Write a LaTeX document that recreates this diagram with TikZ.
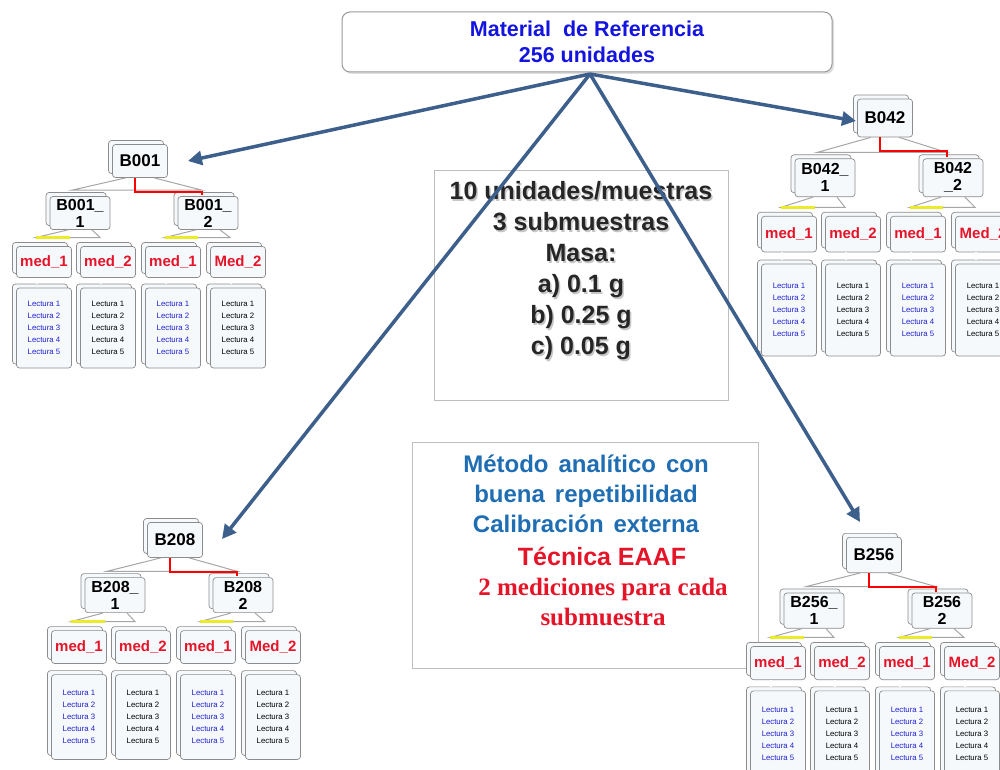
\documentclass[tikz,border=0pt]{standalone}
\usepackage{fontspec}
\setmainfont{Liberation Sans}
\newfontfamily\serifbold{Liberation Serif}
\newfontfamily\widesans[WordSpace=1.5]{Liberation Sans}
\usetikzlibrary{arrows.meta,shadows}
\definecolor{arrowblue}{RGB}{61,95,140}
\definecolor{cardborder}{RGB}{140,140,140}
\definecolor{cardfill}{RGB}{246,249,251}
\definecolor{titleblue}{RGB}{20,20,225}
\definecolor{methblue}{RGB}{31,110,180}
\definecolor{medred}{RGB}{230,20,40}
\definecolor{lectblue}{RGB}{30,30,210}
\definecolor{connyellow}{RGB}{235,235,40}
\definecolor{boxborder}{RGB}{190,190,190}
\tikzset{
 card/.style={draw=cardborder, fill=cardfill, rounded corners=3pt, line width=0.7pt,
   copy shadow={shadow xshift=-4pt, shadow yshift=4pt}, inner sep=0pt, align=center},
 rootlbl/.style={font=\fontsize{17}{19}\selectfont\bfseries},
 childlbl/.style={font=\fontsize{16}{17}\selectfont\bfseries},
 medlbl/.style={font=\fontsize{15}{17}\selectfont\bfseries, text=medred},
 lectlbl/.style={font=\fontsize{7.8}{12}\selectfont},
 greyconn/.style={draw=gray!70, line width=1pt},
 redconn/.style={draw=red, line width=1.8pt},
 yellowconn/.style={draw=connyellow, line width=2.5pt},
 tube/.style={draw=gray!80, double=white, double distance=1.5pt, line width=0.6pt},
 bigarrow/.style={draw=arrowblue, line width=3.5pt, -{Triangle[length=14pt,width=14pt]}},
 infobox/.style={draw=boxborder, fill=white, line width=0.8pt},
}
% #1 name, #2 X, #3 Y, #4 vertical scale, #5 root, #6 child 1, #7 child 2
\newcommand{\orgtree}[7]{%
\begin{scope}[shift={(#2,#3)}]
\pgfmathsetmacro\trYc{52*#4}
\pgfmathsetmacro\trYm{101*#4}
\pgfmathsetmacro\trYl{167*#4}
\pgfmathsetmacro\trHr{33*#4}
\pgfmathsetmacro\trHm{31*#4}
\pgfmathsetmacro\trHl{80*#4}
\pgfmathsetmacro\trYy{(101-15.5)*#4-9}
\node[card,rootlbl,minimum width=55pt,minimum height=\trHr pt] (#1r) at (0,0) {#5};
\node[card,childlbl,minimum width=60pt,minimum height=\trHr pt] (#1c1) at (-60,\trYc) {#6};
\node[card,childlbl,minimum width=60pt,minimum height=\trHr pt] (#1c2) at (68,\trYc) {#7};
\node[card,medlbl,minimum width=55pt,minimum height=\trHm pt] (#1m1) at (-96,\trYm) {med\_1};
\node[card,medlbl,minimum width=55pt,minimum height=\trHm pt] (#1m2) at (-32,\trYm) {med\_2};
\node[card,medlbl,minimum width=55pt,minimum height=\trHm pt] (#1m3) at (33,\trYm) {med\_1};
\node[card,medlbl,minimum width=55pt,minimum height=\trHm pt] (#1m4) at (98,\trYm) {Med\_2};
\node[card,lectlbl,text=lectblue,minimum width=55pt,minimum height=\trHl pt] (#1l1) at (-96,\trYl) {Lectura 1\\Lectura 2\\Lectura 3\\Lectura 4\\Lectura 5};
\node[card,lectlbl,text=black,minimum width=55pt,minimum height=\trHl pt] (#1l2) at (-32,\trYl) {Lectura 1\\Lectura 2\\Lectura 3\\Lectura 4\\Lectura 5};
\node[card,lectlbl,text=lectblue,minimum width=55pt,minimum height=\trHl pt] (#1l3) at (33,\trYl) {Lectura 1\\Lectura 2\\Lectura 3\\Lectura 4\\Lectura 5};
\node[card,lectlbl,text=black,minimum width=55pt,minimum height=\trHl pt] (#1l4) at (98,\trYl) {Lectura 1\\Lectura 2\\Lectura 3\\Lectura 4\\Lectura 5};
% root to children
\draw[greyconn] ([xshift=-14pt]#1r.south) -- ([xshift=-8pt,yshift=6pt]#1c1.north) -- ([xshift=-6pt,yshift=6pt]#1c2.north) -- ([xshift=14pt]#1r.south);
\draw[redconn] ([xshift=-5pt]#1r.south) -- ([xshift=-5pt,yshift=-14pt]#1r.south) -| ([xshift=-6pt,yshift=1pt]#1c2.north);
% children to meds
\draw[greyconn] ([xshift=-12pt]#1c1.south) -- (-104,\trYy) -- (-40,\trYy) -- ([xshift=12pt]#1c1.south);
\draw[greyconn] ([xshift=-12pt]#1c2.south) -- (25,\trYy) -- (90,\trYy) -- ([xshift=12pt]#1c2.south);
\draw[yellowconn] (-104,\trYy) -- (-70,\trYy);
\draw[yellowconn] (25,\trYy) -- (58,\trYy);
% meds to readings
\draw[tube] ([xshift=-7pt]#1m1.south) -- ([xshift=-7pt,yshift=4pt]#1l1.north);
\draw[tube] ([xshift=-7pt]#1m2.south) -- ([xshift=-7pt,yshift=4pt]#1l2.north);
\draw[tube] ([xshift=-7pt]#1m3.south) -- ([xshift=-7pt,yshift=4pt]#1l3.north);
\draw[tube] ([xshift=-7pt]#1m4.south) -- ([xshift=-7pt,yshift=4pt]#1l4.north);
\end{scope}}

\begin{document}
\begin{tikzpicture}[x=1pt,y=-1pt]
\useasboundingbox (0,0) rectangle (1000,770);
\fill[white] (0,0) rectangle (1000,770);

\node[draw=gray!80, fill=white, rounded corners=8pt, minimum width=490pt, minimum height=60pt,
  drop shadow={opacity=0.25, shadow xshift=2pt, shadow yshift=-2pt}, line width=1pt,
  font=\fontsize{21.5}{26}\selectfont\bfseries, text=titleblue, align=center]
  (mat) at (587,42) {Material\ \ de Referencia\\256 unidades};

\node[infobox, minimum width=294pt, minimum height=230pt] (box1) at (581,285) {};
\node[font=\fontsize{25}{31}\selectfont\bfseries, align=center, text=gray!45] (txt1s) at (582.5,272.5)
  {10 unidades/muestras\\3 submuestras\\Masa:\\a) 0.1 g\\b) 0.25 g\\c) 0.05 g};
\node[font=\fontsize{25}{31}\selectfont\bfseries, align=center, text=black!85] (txt1) at (581,271)
  {10 unidades/muestras\\3 submuestras\\Masa:\\a) 0.1 g\\b) 0.25 g\\c) 0.05 g};

\node[infobox, minimum width=346pt, minimum height=226pt] (box2) at (585,555) {};
\node[font=\fontsize{24}{30}\widesans\bfseries, text=methblue, align=center] (txt2) at (586,494)
  {Método analítico con\\buena repetibilidad\\Calibración externa};
\node[font=\fontsize{25}{30}\selectfont\bfseries, text=medred] (txt3) at (602,556) {Técnica EAAF};
\node[font=\fontsize{25}{30}\serifbold\bfseries, text=medred, align=center] (txt4) at (603,602)
  {2 mediciones para cada\\submuestra};

\orgtree{a}{140}{161}{1}{B001}{B001\_\\1}{B001\_\\2}
\orgtree{b}{885}{118}{1.15}{B042}{B042\_\\1}{B042\\\_2}
\orgtree{c}{175}{540}{1.06}{B208}{B208\_\\1}{B208\\2}
\orgtree{d}{874}{555}{1.07}{B256}{B256\_\\1}{B256\\2}

\coordinate (src) at (590,74);
\coordinate (ta) at (188,161);
\coordinate (tb) at (856,121);
\coordinate (tc) at (222,539);
\coordinate (td) at (860,522);
\draw[bigarrow] (src) -- (ta);
\draw[bigarrow] (src) -- (tb);
\draw[bigarrow] (src) -- (tc);
\draw[bigarrow] (src) -- (td);
\end{tikzpicture}
\end{document}
